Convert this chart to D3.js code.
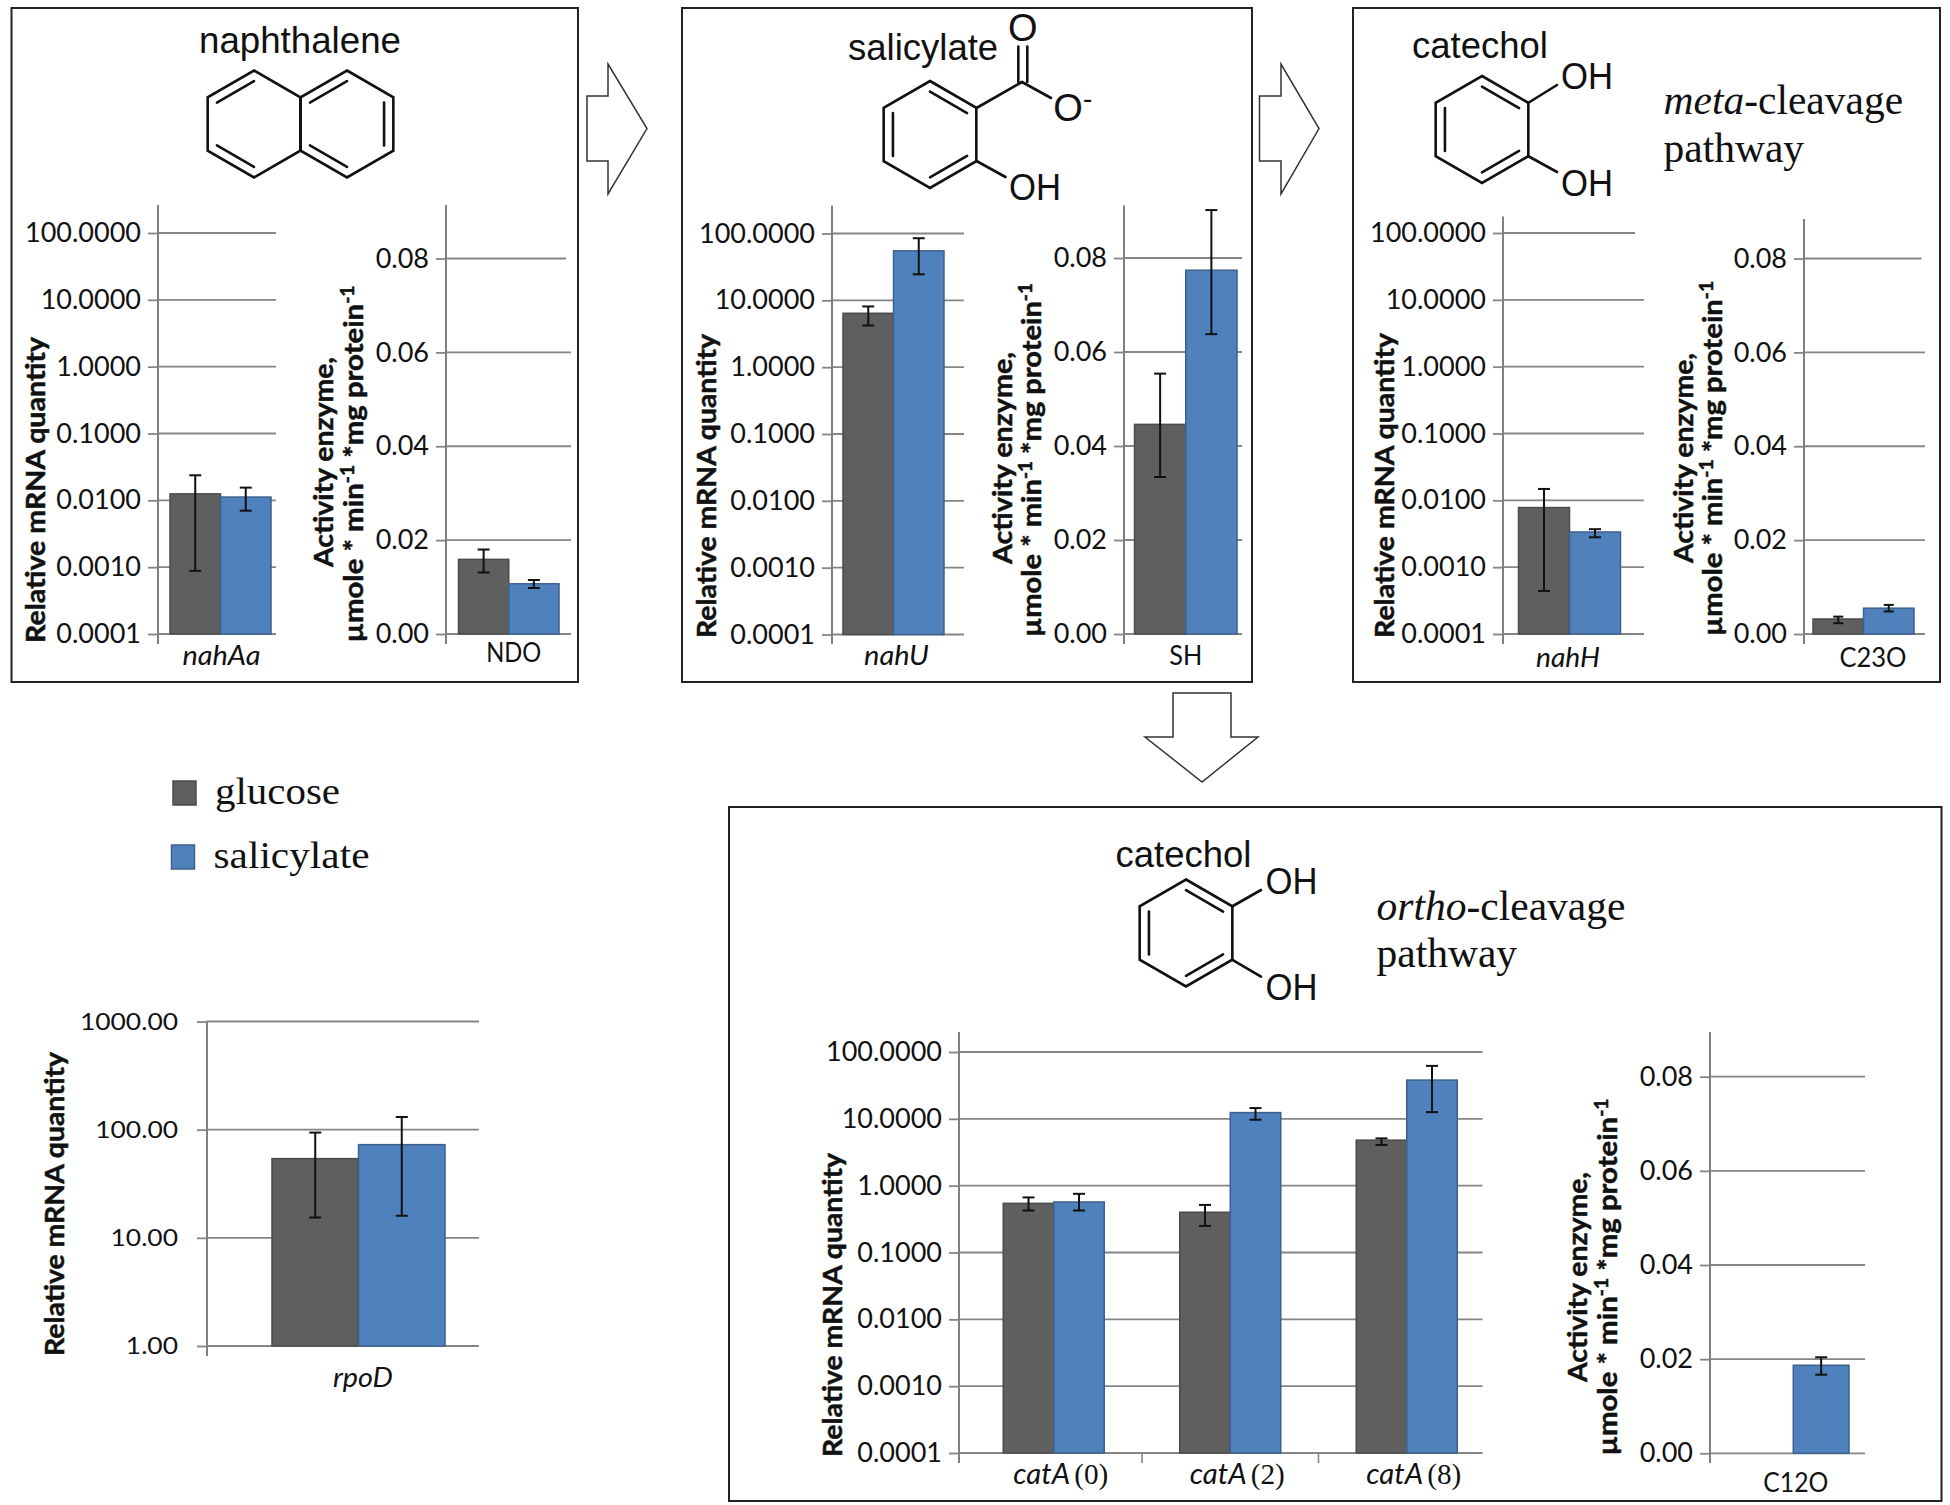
<!DOCTYPE html>
<html>
<head>
<meta charset="utf-8">
<script src="https://cdnjs.cloudflare.com/ajax/libs/d3/7.8.5/d3.min.js"></script>
<style>
html,body{margin:0;padding:0;background:#fff;}
svg{display:block;}
text{fill:#111;}
</style>
</head>
<body>
<svg id="fig" width="1950" height="1505" viewBox="0 0 1950 1505"></svg>
<script>
// ---- data ----
const seriesNames = ["glucose", "salicylate"];
const seriesColors = ["#5f5f5f", "#4f81bd"];
const seriesStrokes = ["#4b4b4b", "#3d618c"];

const mrnaTicks = [0.0001, 0.001, 0.01, 0.1, 1, 10, 100];
const activityTicks = [0, 0.02, 0.04, 0.06, 0.08];
const rpodTicks = [1, 10, 100, 1000];

const nahAaCats = ["nahAa"];
const nahAaMeans = [[0.0125], [0.0112]];
const nahAaLow = [[0.00088], [0.0070]];
const nahAaHigh = [[0.0237], [0.0155]];

const ndoCats = ["NDO"];
const ndoMeans = [[0.0159], [0.0107]];
const ndoLow = [[0.0131], [0.0098]];
const ndoHigh = [[0.0180], [0.0115]];

const nahUCats = ["nahU"];
const nahUMeans = [[6.4], [55]];
const nahULow = [[4.2], [24.5]];
const nahUHigh = [[8.1], [85]];

const shCats = ["SH"];
const shMeans = [[0.0446], [0.0774]];
const shLow = [[0.0334], [0.0638]];
const shHigh = [[0.0554], [0.0902]];

const nahHCats = ["nahH"];
const nahHMeans = [[0.0078], [0.00336]];
const nahHLow = [[0.00044], [0.0028]];
const nahHHigh = [[0.0148], [0.0037]];

const c23oCats = ["C23O"];
const c23oMeans = [[0.0032], [0.0055]];
const c23oLow = [[0.0023], [0.0048]];
const c23oHigh = [[0.0037], [0.0062]];

const rpodCats = ["rpoD"];
const rpodMeans = [[54], [72.7]];
const rpodLow = [[15.4], [16]];
const rpodHigh = [[94], [131]];

const catACats = ["0", "2", "8"];
const catAMeans = [[0.544, 0.40, 4.8], [0.57, 12.4, 38]];
const catALow = [[0.425, 0.25, 4.07], [0.425, 9.7, 12.6]];
const catAHigh = [[0.667, 0.515, 5.1], [0.755, 14.5, 62]];

const c12oCats = ["C12O"];
const c12oMeans = [[null], [0.0187]];
const c12oLow = [[null], [0.0167]];
const c12oHigh = [[null], [0.0204]];

// ---- layout ----
const svg = d3.select("#fig");
const SANS = "Lato, 'Liberation Sans', sans-serif";
const ARIAL = "'Liberation Sans', Arial, sans-serif";
const SERIF = "'Liberation Serif', 'Times New Roman', serif";

const panelBoxes = [
  [11.5, 8, 578, 682],
  [682, 8, 1252, 682],
  [1353, 8, 1940, 682],
  [729, 807, 1941.5, 1501]
];
svg.selectAll("rect.panel").data(panelBoxes).join("rect")
  .attr("class", "panel")
  .attr("x", d => d[0]).attr("y", d => d[1])
  .attr("width", d => d[2] - d[0]).attr("height", d => d[3] - d[1])
  .attr("fill", "#fff").attr("stroke", "#222").attr("stroke-width", 2);

function fit(sel, width) {
  sel.attr("textLength", width).attr("lengthAdjust", "spacingAndGlyphs");
  return sel;
}
function heavy(sel) {
  sel.attr("stroke", "#111").attr("stroke-width", 0.5);
  return sel;
}

function yTitleMrna(x, cy, len, size) {
  const t = svg.append("text")
    .attr("transform", `translate(${x},${cy}) rotate(-90)`)
    .attr("text-anchor", "middle").attr("font-family", SANS)
    .attr("font-weight", 700).attr("font-size", size || 27.5)
    .text("Relative mRNA quantity");
  fit(t, len); heavy(t);
}

function yTitleActivity(x1, c1, len1, x2, c2, len2) {
  const t1 = svg.append("text")
    .attr("transform", `translate(${x1},${c1}) rotate(-90)`)
    .attr("text-anchor", "middle").attr("font-family", SANS)
    .attr("font-weight", 700).attr("font-size", 27.5)
    .text("Activity enzyme,");
  fit(t1, len1); heavy(t1);
  const t2 = svg.append("text")
    .attr("transform", `translate(${x2},${c2}) rotate(-90)`)
    .attr("text-anchor", "middle").attr("font-family", SANS)
    .attr("font-weight", 700).attr("font-size", 27.5);
  t2.append("tspan").text("µmole * min");
  t2.append("tspan").attr("dy", -9).attr("font-size", 18).text("-1");
  t2.append("tspan").attr("dy", 9).text(" *mg protein");
  t2.append("tspan").attr("dy", -9).attr("font-size", 18).text("-1");
  fit(t2, len2); heavy(t2);
}

function barChart(c) {
  const g = svg.append("g");
  const y = (c.log ? d3.scaleLog() : d3.scaleLinear()).domain(c.domain).range(c.yRange);
  const x = d3.scaleBand().domain(c.cats).range(c.xRange)
    .paddingInner(c.pad || 0).paddingOuter((c.pad || 0) / 2);
  const x1 = d3.scaleBand().domain(d3.range(seriesNames.length)).range([0, x.bandwidth()]);
  const topTick = c.ticks[c.ticks.length - 1];

  // horizontal grid lines
  g.append("g").selectAll("line").data(c.ticks).join("line")
    .attr("x1", c.axisX).attr("x2", d => d === topTick && c.topGridEnd ? c.topGridEnd : c.gridEnd)
    .attr("y1", d => y(d)).attr("y2", d => y(d))
    .attr("stroke", "#858585").attr("stroke-width", 1.8);

  // axis with tick labels
  const axis = d3.axisLeft(y).tickValues(c.ticks)
    .tickFormat(d3.format(c.fmt)).tickSize(c.tickLen || 10).tickPadding(c.tickPad || 7);
  const ag = g.append("g").attr("transform", `translate(${c.axisX},0)`).call(axis);
  ag.select(".domain").remove();
  ag.selectAll("line").attr("stroke", "#858585").attr("stroke-width", 1.8);
  ag.selectAll("text").attr("font-family", SANS).attr("font-size", c.tickFont || 27)
    .attr("fill", "#111");
  if (c.tickStretch) {
    ag.selectAll("text").each(function () {
      d3.select(this).call(fit, this.getComputedTextLength() * c.tickStretch);
    });
  }
  g.append("line").attr("x1", c.axisX).attr("x2", c.axisX)
    .attr("y1", c.axisTop).attr("y2", c.axisBottom)
    .attr("stroke", "#808080").attr("stroke-width", 2);

  // category separators on the baseline
  if (c.cats.length > 1) {
    g.append("g").selectAll("line").data(c.cats.slice(1)).join("line")
      .attr("x1", d => x(d) - x.step() * x.paddingInner() / 2)
      .attr("x2", d => x(d) - x.step() * x.paddingInner() / 2)
      .attr("y1", c.yRange[0]).attr("y2", c.axisBottom)
      .attr("stroke", "#858585").attr("stroke-width", 1.6);
  }

  // bars
  const rows = [];
  c.means.forEach((vals, s) => vals.forEach((v, i) => {
    if (v !== null) rows.push({ s, cat: c.cats[i], v, lo: c.low[s][i], hi: c.high[s][i] });
  }));
  g.append("g").selectAll("rect").data(rows).join("rect")
    .attr("x", d => x(d.cat) + x1(d.s))
    .attr("width", x1.bandwidth())
    .attr("y", d => y(d.v))
    .attr("height", d => c.yRange[0] - y(d.v))
    .attr("fill", d => seriesColors[d.s])
    .attr("stroke", d => seriesStrokes[d.s]).attr("stroke-width", 1.5);

  // error bars
  const cx = d => x(d.cat) + x1(d.s) + x1.bandwidth() / 2;
  const cap = c.cap || 6;
  const eb = g.append("g").attr("stroke", "#111").attr("stroke-width", 2);
  eb.selectAll("line.s").data(rows).join("line").attr("class", "s")
    .attr("x1", cx).attr("x2", cx).attr("y1", d => y(d.lo)).attr("y2", d => y(d.hi));
  eb.selectAll("line.l").data(rows).join("line").attr("class", "l")
    .attr("x1", d => cx(d) - cap).attr("x2", d => cx(d) + cap)
    .attr("y1", d => y(d.lo)).attr("y2", d => y(d.lo));
  eb.selectAll("line.h").data(rows).join("line").attr("class", "h")
    .attr("x1", d => cx(d) - cap).attr("x2", d => cx(d) + cap)
    .attr("y1", d => y(d.hi)).attr("y2", d => y(d.hi));

  // category labels
  const lab = g.append("g").selectAll("text").data(c.cats).join("text")
    .attr("text-anchor", "middle")
    .attr("x", d => x(d) + x.bandwidth() / 2 + (c.labelShift || 0))
    .attr("y", c.labelY)
    .attr("font-family", SANS).attr("font-size", c.labelFont || 27);
  if (c.catLabel) {
    c.catLabel(lab);
  } else {
    lab.attr("font-style", c.italic ? "italic" : "normal").text(d => d);
    if (c.labelWidth) lab.call(fit, c.labelWidth);
  }
}

const mrnaBase = { log: true, domain: [0.0001, 100], ticks: mrnaTicks, fmt: ".4f", italic: true };
const actBase = { domain: [0, 0.08], ticks: activityTicks, fmt: ".2f" };

barChart({ ...mrnaBase, cats: nahAaCats, means: nahAaMeans, low: nahAaLow, high: nahAaHigh,
  yRange: [634, 233], xRange: [170, 271], axisX: 158, gridEnd: 276, axisTop: 205, axisBottom: 644,
  labelY: 665, labelShift: 1, labelWidth: 78 });
barChart({ ...actBase, cats: ndoCats, means: ndoMeans, low: ndoLow, high: ndoHigh,
  yRange: [634, 258.5], xRange: [458.5, 559], axisX: 446, gridEnd: 571, topGridEnd: 566, axisTop: 205, axisBottom: 644,
  labelY: 662, labelWidth: 55, labelShift: 5 });
barChart({ ...mrnaBase, cats: nahUCats, means: nahUMeans, low: nahULow, high: nahUHigh,
  yRange: [634.5, 233.5], xRange: [843, 944], axisX: 832, gridEnd: 964, axisTop: 205.5, axisBottom: 644,
  labelY: 665, labelWidth: 65, labelShift: 3 });
barChart({ ...actBase, cats: shCats, means: shMeans, low: shLow, high: shHigh,
  yRange: [634, 258], xRange: [1134.5, 1237], axisX: 1124, gridEnd: 1242, axisTop: 205.5, axisBottom: 644,
  labelY: 665, labelWidth: 33 });
barChart({ ...mrnaBase, cats: nahHCats, means: nahHMeans, low: nahHLow, high: nahHHigh,
  yRange: [634, 233], xRange: [1518.5, 1620.5], axisX: 1503, gridEnd: 1644, topGridEnd: 1635, axisTop: 216.5, axisBottom: 644,
  labelY: 667, labelWidth: 64, labelShift: -1.5 });
barChart({ ...actBase, cats: c23oCats, means: c23oMeans, low: c23oLow, high: c23oHigh,
  yRange: [634, 258.5], xRange: [1813, 1914], axisX: 1804, gridEnd: 1925, topGridEnd: 1921.5, axisTop: 219, axisBottom: 644,
  labelY: 667, labelWidth: 67, labelShift: 9.5, cap: 5 });
barChart({ log: true, domain: [1, 1000], ticks: rpodTicks, fmt: ".2f", italic: true,
  cats: rpodCats, means: rpodMeans, low: rpodLow, high: rpodHigh,
  yRange: [1346, 1021.5], xRange: [272, 445], axisX: 207, gridEnd: 479, axisTop: 1021.5, axisBottom: 1356,
  labelY: 1387, labelWidth: 60, labelShift: 4.5, tickPad: 19, tickFont: 24, tickStretch: 1.1 });
barChart({ ...mrnaBase, cats: catACats, means: catAMeans, low: catALow, high: catAHigh,
  yRange: [1453, 1052], xRange: [965.5, 1495], pad: 0.4278, axisX: 959, gridEnd: 1482.5, axisTop: 1032, axisBottom: 1463,
  labelY: 1484, labelShift: 7, labelFont: 29,
  catLabel: lab => {
    lab.append("tspan").attr("font-style", "italic").text("catA");
    lab.append("tspan").attr("font-family", SERIF).attr("dx", 4).text(d => `(${d})`);
    lab.call(fit, 95);
  } });
barChart({ ...actBase, cats: c12oCats, means: c12oMeans, low: c12oLow, high: c12oHigh,
  yRange: [1453.3, 1076.7], xRange: [1737.6, 1849], axisX: 1710, gridEnd: 1865, axisTop: 1032, axisBottom: 1463,
  labelY: 1491.5, labelWidth: 65, labelShift: 2.5 });

yTitleMrna(45, 490, 306);
yTitleActivity(333, 462, 210, 363, 464, 357);
yTitleMrna(716, 486, 304);
yTitleActivity(1011.5, 458, 212, 1041, 460, 354);
yTitleMrna(1393.5, 485.5, 305);
yTitleActivity(1693, 458, 210, 1722, 458.5, 355);
yTitleMrna(64, 1204, 304);
yTitleMrna(842, 1305, 304);
yTitleActivity(1587, 1277, 210, 1617, 1277, 357);

// ---- flow arrows ----
const rightArrow = (x0, xn, xt) => [[x0, 96], [xn, 96], [xn, 64], [xt, 128.6], [xn, 194], [xn, 161], [x0, 161]];
const arrows = [
  rightArrow(587, 608, 647),
  rightArrow(1259.5, 1281, 1319),
  [[1173, 693], [1231, 693], [1231, 737], [1258, 737], [1202, 782], [1145, 737], [1173, 737]]
];
svg.selectAll("path.arrow").data(arrows).join("path").attr("class", "arrow")
  .attr("d", d => d3.line()(d) + "Z")
  .attr("fill", "#fff").attr("stroke", "#333").attr("stroke-width", 1.5);

// ---- molecule drawings ----
const mol = svg.append("g").attr("stroke", "#111").attr("stroke-width", 2.6)
  .attr("stroke-linecap", "round").attr("fill", "none");
function ring(cx, cy, R, doubles) {
  const v = d3.range(6).map(i => {
    const a = (-90 + 60 * i) * Math.PI / 180;
    return [cx + R * Math.cos(a), cy + R * Math.sin(a)];
  });
  mol.append("path").attr("d", d3.line()(v) + "Z").attr("stroke-linejoin", "miter");
  doubles.forEach(i => {
    const a = v[i], b = v[(i + 1) % 6], k = 0.8;
    mol.append("line")
      .attr("x1", cx + (a[0] - cx) * k).attr("y1", cy + (a[1] - cy) * k)
      .attr("x2", cx + (b[0] - cx) * k).attr("y2", cy + (b[1] - cy) * k);
  });
}
function bond(x1, y1, x2, y2) {
  mol.append("line").attr("x1", x1).attr("y1", y1).attr("x2", x2).attr("y2", y2);
}
function label(txt, x, y, size, anchor) {
  return svg.append("text").attr("x", x).attr("y", y)
    .attr("font-family", ARIAL).attr("font-size", size || 36)
    .attr("text-anchor", anchor || "start").text(txt);
}
function hydroxyl(x, y) {
  return label("OH", x, y, 37).call(fit, 52);
}

ring(254, 124, 53.5, [5, 3]);
ring(347, 124, 53.5, [5, 3, 1]);
label("naphthalene", 300, 52.5, 36.7, "middle");

ring(930, 134.5, 53.5, [0, 4, 2]);
bond(976.5, 108, 1022, 82);
bond(1018.3, 82, 1018.3, 46.5);
bond(1027.3, 82, 1027.3, 46.5);
bond(1022, 82, 1051, 98);
bond(976.5, 161, 1005.5, 177);
label("salicylate", 848, 60, 36.5);
label("O", 1022.7, 41, 38, "middle");
label("O", 1068, 121, 38, "middle");
label("-", 1083, 108, 28);
hydroxyl(1009, 200);

ring(1482, 129.5, 53.5, [0, 4, 2]);
bond(1528, 103, 1557, 85);
bond(1528, 156, 1557, 172);
label("catechol", 1412, 58, 36.5);
hydroxyl(1561, 89);
hydroxyl(1561, 196);

ring(1186, 933, 53.5, [0, 4, 2]);
bond(1232, 906.5, 1261, 890);
bond(1232, 959.6, 1261, 976.7);
label("catechol", 1115.5, 866.5, 36.5);
hydroxyl(1265.5, 894);
hydroxyl(1265.5, 1000);

// ---- pathway captions ----
function pathway(prefix, x, y1, y2) {
  const t = svg.append("text").attr("x", x).attr("y", y1)
    .attr("font-family", SERIF).attr("font-size", 41.5);
  t.append("tspan").attr("font-style", "italic").text(prefix);
  t.append("tspan").text("-cleavage");
  svg.append("text").attr("x", x).attr("y", y2)
    .attr("font-family", SERIF).attr("font-size", 41.5).text("pathway");
}
pathway("meta", 1663.5, 114, 161.5);
pathway("ortho", 1376.5, 920, 967);

// ---- legend ----
const legendY = d3.scalePoint().domain(seriesNames).range([793, 857]);
const legend = svg.append("g").selectAll("g").data(seriesNames).join("g");
legend.append("rect")
  .attr("x", (d, i) => i === 0 ? 173 : 171.5).attr("y", d => legendY(d) - 12)
  .attr("width", 23).attr("height", 24)
  .attr("fill", (d, i) => seriesColors[i]).attr("stroke", (d, i) => seriesStrokes[i]).attr("stroke-width", 1.5);
legend.append("text")
  .attr("x", (d, i) => i === 0 ? 215 : 213.5).attr("y", d => legendY(d) + 11)
  .attr("font-family", SERIF).attr("font-size", 38)
  .text(d => d)
  .each(function (d, i) { d3.select(this).call(fit, i === 0 ? 125 : 156); });
</script>
</body>
</html>
